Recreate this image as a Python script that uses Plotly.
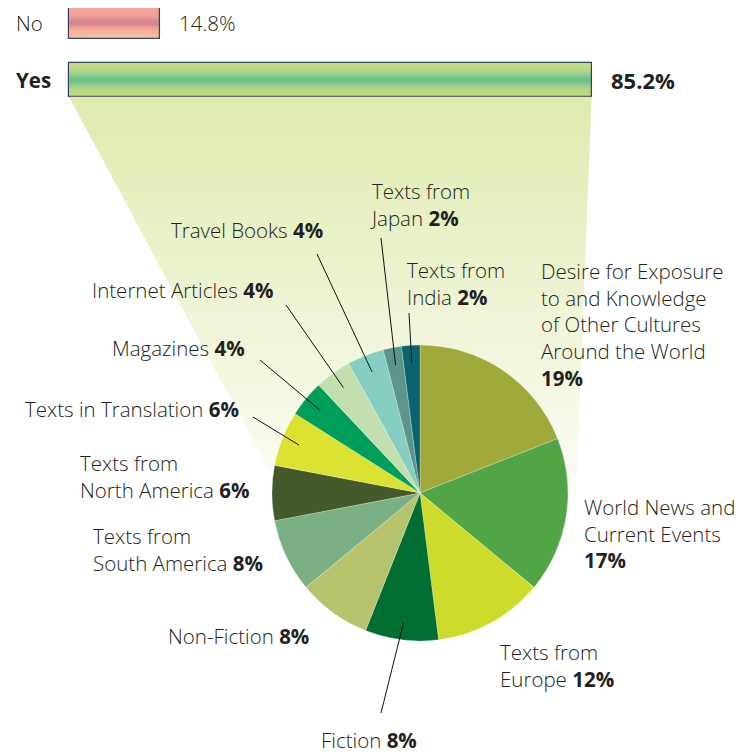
import plotly.graph_objects as go
import numpy as np

# ---------------- data ----------------
answer_labels = ["No", "Yes"]
answer_values = [14.8, 85.2]

pie_labels = [
    "Desire for Exposure to and Knowledge of Other Cultures Around the World",
    "World News and Current Events",
    "Texts from Europe",
    "Fiction",
    "Non-Fiction",
    "Texts from South America",
    "Texts from North America",
    "Texts in Translation",
    "Magazines",
    "Internet Articles",
    "Travel Books",
    "Texts from Japan",
    "Texts from India",
]
pie_values = [19, 17, 12, 8, 8, 8, 6, 6, 4, 4, 4, 2, 2]

# text shown for each slice (line breaks as in the original)
pie_label_text = [
    "Desire for Exposure<br>to and Knowledge<br>of Other Cultures<br>Around the World",
    "World News and<br>Current Events",
    "Texts from<br>Europe",
    "Fiction",
    "Non-Fiction",
    "Texts from<br>South America",
    "Texts from<br>North America",
    "Texts in Translation",
    "Magazines",
    "Internet Articles",
    "Travel Books",
    "Texts from<br>Japan",
    "Texts from<br>India",
]
pct_on_new_line = [True, True, False, False, False, False, False,
                   False, False, False, False, False, False]

# ---------------- styles / layout ----------------
PAGE_W, PAGE_H = 750, 754
OFF = 8                       # default body margin of the html page
W, H = PAGE_W - OFF, PAGE_H - OFF
FONT = "Open Sans"
TXT = "#231f20"
LIGHT = 300
LABEL_SIZE = 20.5

pie_colors = ["#a0aa3a", "#52a547", "#cddb2b", "#006e30", "#b7c26c",
              "#7ab083", "#455a2b", "#dce231", "#009e5b", "#c3dfb0",
              "#86cfc0", "#5c958c", "#0a6470"]

# label anchors in page pixels: (x, y, xanchor)
label_pos = [
    (539, 324, "left"),
    (582, 533, "left"),
    (498, 665, "left"),
    (319, 740, "left"),
    (311, 636, "right"),
    (91, 549, "left"),
    (78, 476, "left"),
    (241, 409, "right"),
    (247, 348, "right"),
    (275, 290, "right"),
    (325, 230, "right"),
    (368, 204, "left"),
    (405, 283, "left"),
]
# leader line starting points (page pixels), None = no leader
leader_start = [None, None, None, (381, 713), None, None, None,
                (253, 417), (260, 360), (286, 305), (317, 254),
                (381, 238), (409, 313)]

# pie geometry (page pixels)
PIE_CX, PIE_CY, PIE_R = 420, 493, 148

# bar geometry (page pixels)
BAR_X0_PX = 69.0
BAR_PX_PER_UNIT = 6.135
ROW0_PX, ROW_STEP = 22.5, 57.5
BAR_W = 0.583
BAR_AXIS_BOTTOM_PX = 120

no_stops = [(0, "#f5a898"), (0.3, "#f0a194"), (0.5, "#d4828b"),
            (0.7, "#f4aa96"), (1, "#fcc09c")]
yes_stops = [(0, "#c9de82"), (0.25, "#aed48a"), (0.45, "#72c28b"),
             (0.55, "#72c28b"), (0.75, "#acd38a"), (1, "#c6dc7a")]
N_BANDS = 16


def hex2rgb(h):
    h = h.lstrip("#")
    return np.array([int(h[i:i + 2], 16) for i in (0, 2, 4)], float)


def grad_color(stops, t):
    for (t0, c0), (t1, c1) in zip(stops[:-1], stops[1:]):
        if t0 <= t <= t1:
            f = 0 if t1 == t0 else (t - t0) / (t1 - t0)
            c = hex2rgb(c0) * (1 - f) + hex2rgb(c1) * f
            return "rgb(%d,%d,%d)" % tuple(np.round(c))
    return stops[-1][1]


def bar_px_x(v):
    return BAR_X0_PX + v * BAR_PX_PER_UNIT


def bar_px_y(idx):
    return ROW0_PX + idx * ROW_STEP


fig = go.Figure()

# ---------- connector (trapezoid from "Yes" bar to the pie) ----------
yes_idx = answer_labels.index("Yes")
top_y = bar_px_y(yes_idx + BAR_W / 2)
trap_x = [bar_px_x(0), bar_px_x(answer_values[yes_idx]), 576, 281]
trap_y = [top_y, top_y, PIE_CY, PIE_CY]
fig.add_trace(go.Scatter(
    x=trap_x, y=trap_y, xaxis="x3", yaxis="y3", fill="toself", mode="none",
    fillgradient=dict(type="vertical",
                      colorscale=[[0, "#dfebae"], [0.55, "#eef4d4"], [1, "#fafcf1"]],
                      start=top_y, stop=470),
    hoverinfo="skip", showlegend=False))

# ---------- gradient bars ----------
for i in range(N_BANDS):
    t = (i + 0.5) / N_BANDS
    fig.add_trace(go.Bar(
        x=answer_values, y=answer_labels, orientation="h",
        width=BAR_W / N_BANDS, offset=-BAR_W / 2 + i * BAR_W / N_BANDS,
        marker=dict(color=[grad_color(no_stops, t), grad_color(yes_stops, t)],
                    line=dict(width=0)),
        hoverinfo="skip", showlegend=False))
fig.add_trace(go.Bar(
    x=answer_values, y=answer_labels, orientation="h", width=BAR_W,
    marker=dict(color="rgba(0,0,0,0)", line=dict(color="#34435f", width=1.2)),
    hovertemplate="%{y}: %{x}%<extra></extra>", showlegend=False))

# ---------- pie ----------
fig.add_trace(go.Pie(
    labels=pie_labels, values=pie_values, sort=False, direction="clockwise",
    rotation=0, textinfo="none",
    marker=dict(colors=pie_colors, line=dict(color="rgba(255,255,255,0.5)", width=0.5)),
    domain=dict(x=[(PIE_CX - PIE_R - OFF) / W, (PIE_CX + PIE_R - OFF) / W],
                y=[1 - (PIE_CY + PIE_R - OFF) / H, 1 - (PIE_CY - PIE_R - OFF) / H]),
    showlegend=False, hovertemplate="%{label}: %{value}%<extra></extra>"))

annotations = []
shapes = []

# bar labels
for lab, val in zip(answer_labels, answer_values):
    bold = lab == "Yes"
    annotations.append(dict(
        xref="paper", x=(14 - OFF) / W, yref="y", y=lab, xanchor="left",
        yanchor="middle", text=f"<b>{lab}</b>" if bold else lab, showarrow=False,
        font=dict(family=FONT, size=20.5, color=TXT, weight=LIGHT)))
    annotations.append(dict(
        xref="x", x=val, yref="y", y=lab, xanchor="left", yanchor="middle",
        xshift=17, text=f"<b>{val}%</b>" if bold else f"{val}%", showarrow=False,
        font=dict(family=FONT, size=22 if bold else 20.5, color=TXT, weight=LIGHT)))

# pie labels and leader lines
total = sum(pie_values)
cum = 0
for k, (txt, v) in enumerate(zip(pie_label_text, pie_values)):
    mid = (cum + v / 2) / total * 2 * np.pi
    cum += v
    sep = "<br>" if pct_on_new_line[k] else " "
    x, y, xa = label_pos[k]
    annotations.append(dict(
        xref="x3", yref="y3", x=x, y=y, xanchor=xa, yanchor="middle", align="left",
        text=f"{txt}{sep}<b>{v}%</b>", showarrow=False,
        font=dict(family=FONT, size=LABEL_SIZE, color=TXT, weight=LIGHT)))
    if leader_start[k] is not None:
        r = PIE_R * 0.88
        ex = PIE_CX + r * np.sin(mid)
        ey = PIE_CY - r * np.cos(mid)
        sx, sy = leader_start[k]
        shapes.append(dict(type="line", xref="x3", yref="y3", x0=sx, y0=sy,
                           x1=ex, y1=ey, layer="above",
                           line=dict(color="#111111", width=1)))

hidden = dict(visible=False, showgrid=False, zeroline=False, fixedrange=True)
fig.update_layout(
    width=W, height=H, margin=dict(l=0, r=0, t=0, b=0),
    paper_bgcolor="white", plot_bgcolor="rgba(0,0,0,0)",
    barmode="overlay", bargap=0,
    xaxis=dict(domain=[0, 1], range=[(OFF - BAR_X0_PX) / BAR_PX_PER_UNIT,
                                     (PAGE_W - BAR_X0_PX) / BAR_PX_PER_UNIT],
               anchor="y", **hidden),
    yaxis=dict(domain=[1 - (BAR_AXIS_BOTTOM_PX - OFF) / H, 1], type="category",
               categoryorder="array", categoryarray=answer_labels,
               range=[(BAR_AXIS_BOTTOM_PX - ROW0_PX) / ROW_STEP,
                      (OFF - ROW0_PX) / ROW_STEP],
               anchor="x", **hidden),
    xaxis3=dict(domain=[0, 1], range=[OFF, PAGE_W], anchor="y3", **hidden),
    yaxis3=dict(domain=[0, 1], range=[PAGE_H, OFF], anchor="x3", **hidden),
    annotations=annotations, shapes=shapes,
    font=dict(family=FONT, color=TXT),
)

fig.write_html("out.html")
